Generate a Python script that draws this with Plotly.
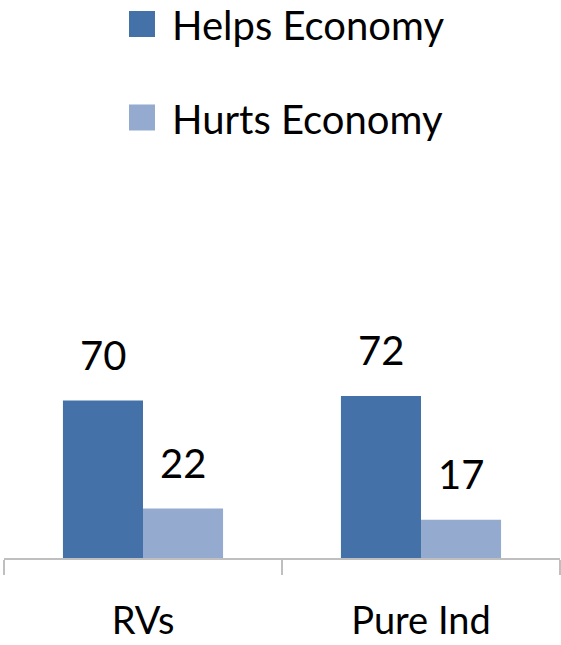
import plotly.graph_objects as go

categories = ["RVs", "Pure Ind"]
helps = [70, 72]
hurts = [22, 17]
series_names = ["Helps Economy", "Hurts Economy"]
colors = ["#4472A8", "#94AACF"]

FONT = "Lato, Calibri, Carlito, sans-serif"

fig = go.Figure()
for name, vals, col in zip(series_names, [helps, hurts], colors):
    fig.add_trace(go.Bar(
        x=categories, y=vals, name=name,
        marker=dict(color=col, line=dict(width=0)),
        showlegend=False,
    ))

# value labels above each bar
for k, vals in enumerate([helps, hurts]):
    for cat, v in zip(categories, vals):
        fig.add_annotation(
            x=cat, y=v, text=str(v), showarrow=False,
            xshift=-40 if k == 0 else 40, yshift=20,
            yanchor="bottom", font=dict(size=40, color="#000000", family=FONT),
        )

# legend drawn by hand (big square swatches)
legend_rows = [(2.3156, 2.431, 2.367), (1.90, 2.0156, 1.949)]
for (y0, y1, yt), name, col in zip(legend_rows, series_names, colors):
    fig.add_shape(type="rect", xref="paper", yref="paper",
                  x0=0.2248, x1=0.2716, y0=y0, y1=y1,
                  fillcolor=col, line=dict(width=0))
    fig.add_annotation(xref="paper", yref="paper", x=0.2986, y=yt,
                       xanchor="left", yanchor="middle", showarrow=False,
                       text=name, font=dict(size=40, color="#000000", family=FONT))

fig.update_layout(
    width=561, height=645,
    margin=dict(l=4, r=1, t=333, b=87, autoexpand=False),
    plot_bgcolor="#FFFFFF", paper_bgcolor="#FFFFFF",
    barmode="group", bargap=0.424, bargroupgap=0,
    font=dict(family=FONT, color="#000000", size=40),
    xaxis=dict(
        showline=True, linecolor="#BFBFBF", linewidth=1.5,
        ticks="outside", ticklen=15, tickcolor="#BFBFBF", tickwidth=1.5,
        tickson="boundaries", ticklabelstandoff=29, automargin=False,
        tickfont=dict(size=38, color="#000000", family=FONT),
        showgrid=False,
    ),
    yaxis=dict(range=[0, 100], visible=False),
)

fig.write_html("out.html", config={"displayModeBar": False},
               post_script="document.body.style.margin='0';")
